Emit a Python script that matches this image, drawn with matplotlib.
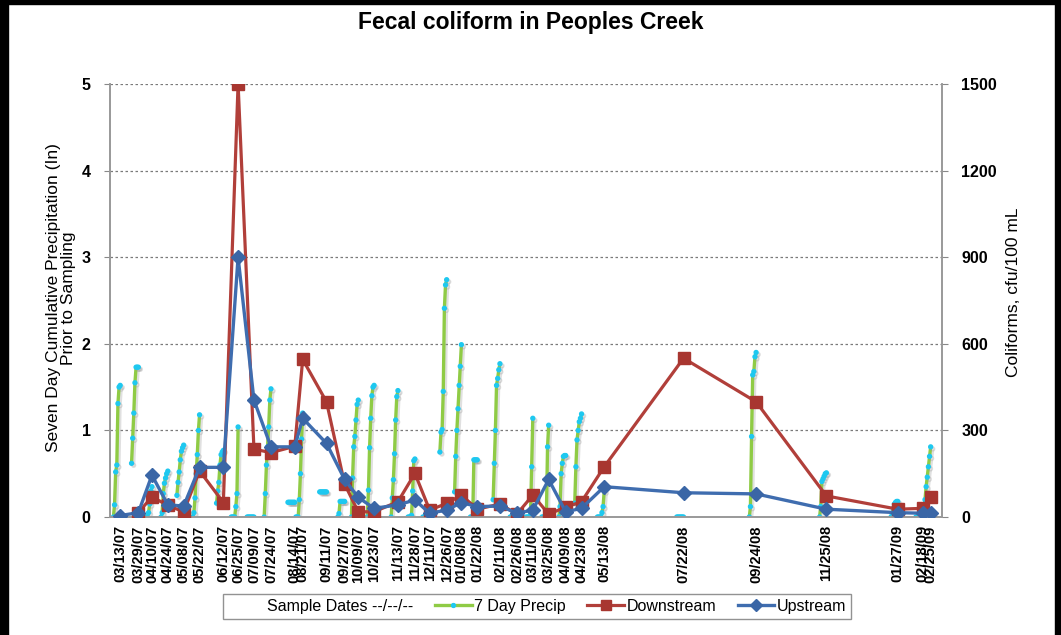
import numpy as np
import pandas as pd
import matplotlib
matplotlib.use("Agg")
import matplotlib.pyplot as plt
import matplotlib.patheffects as pe
from matplotlib.lines import Line2D
from matplotlib.patches import Rectangle

plt.rcParams['font.family'] = ['Liberation Sans', 'DejaVu Sans']

# ---------------- data ----------------
sample_dates = ['03/13/07', '03/29/07', '04/10/07', '04/24/07', '05/08/07', '05/22/07',
                '06/12/07', '06/25/07', '07/09/07', '07/24/07', '08/14/07', '08/21/07',
                '09/11/07', '09/27/07', '10/09/07', '10/23/07', '11/13/07', '11/28/07',
                '12/11/07', '12/26/07', '01/08/08', '01/22/08', '02/11/08', '02/26/08',
                '03/11/08', '03/25/08', '04/09/08', '04/23/08', '05/13/08', '07/22/08',
                '09/24/08', '11/25/08', '01/27/09', '02/18/09', '02/25/09']

downstream = [np.nan, 15, 70, 40, 18, 160, 50, 1500, 235, 223, 245, 546, 399, 114, 18, 18,
              53, 151, 24, 47, 76, 27, 45, 10, 76, 10, 34, 53, 174, 550, 399, 73, 27, 30, 70]

upstream = [5, 15, 145, 42, 38, 172, 172, 900, 405, 243, 243, 342, 255, 130, 68, 30,
            42, 59, 13, 24, 50, 36, 38, 13, 24, 130, 18, 30, 105, 84, 80, 27, 15, 13, 15]

# 7-day cumulative precipitation (in) for the 7 days ending on each sample date
precip_7day = [
    [0.00, 0.14, 0.52, 0.60, 1.31, 1.50, 1.52],
    [0.62, 0.91, 1.20, 1.55, 1.73, 1.73, 1.73],
    [0.00, 0.00, 0.00, 0.05, 0.15, 0.30, 0.35],
    [0.00, 0.05, 0.27, 0.39, 0.45, 0.50, 0.53],
    [0.25, 0.40, 0.52, 0.66, 0.76, 0.80, 0.83],
    [0.00, 0.05, 0.22, 0.50, 0.72, 1.00, 1.18],
    [0.16, 0.30, 0.40, 0.60, 0.72, 0.75, 0.77],
    [0.00, 0.00, 0.00, 0.00, 0.12, 0.27, 1.04],
    [0.00, 0.00, 0.00, 0.00, 0.00, 0.00, 0.00],
    [0.00, 0.27, 0.60, 0.81, 1.04, 1.35, 1.48],
    [0.17, 0.17, 0.17, 0.17, 0.17, 0.17, 0.17],
    [0.00, 0.00, 0.00, 0.20, 0.50, 0.90, 1.20],
    [0.29, 0.29, 0.29, 0.29, 0.29, 0.29, 0.29],
    [0.00, 0.04, 0.18, 0.18, 0.18, 0.18, 0.18],
    [0.00, 0.45, 0.81, 0.93, 1.12, 1.30, 1.35],
    [0.00, 0.31, 0.80, 1.14, 1.40, 1.50, 1.52],
    [0.00, 0.22, 0.43, 0.73, 1.12, 1.39, 1.46],
    [0.00, 0.00, 0.00, 0.02, 0.30, 0.65, 0.67],
    [0.00, 0.00, 0.00, 0.00, 0.05, 0.08, 0.10],
    [0.75, 0.98, 1.01, 1.45, 2.41, 2.68, 2.74],
    [0.29, 0.70, 1.00, 1.25, 1.52, 1.74, 1.99],
    [0.00, 0.00, 0.00, 0.66, 0.66, 0.66, 0.66],
    [0.20, 0.62, 1.00, 1.52, 1.60, 1.70, 1.77],
    [0.00, 0.00, 0.00, 0.00, 0.00, 0.00, 0.00],
    [0.00, 0.00, 0.00, 0.00, 0.04, 0.58, 1.14],
    [0.00, 0.00, 0.00, 0.00, 0.04, 0.81, 1.06],
    [0.00, 0.12, 0.50, 0.62, 0.70, 0.71, 0.71],
    [0.16, 0.58, 0.89, 1.00, 1.10, 1.14, 1.19],
    [0.00, 0.00, 0.00, 0.00, 0.05, 0.12, 0.30],
    [0.00, 0.00, 0.00, 0.00, 0.00, 0.00, 0.00],
    [0.00, 0.12, 0.93, 1.64, 1.68, 1.85, 1.90],
    [0.00, 0.12, 0.41, 0.44, 0.47, 0.50, 0.51],
    [0.00, 0.04, 0.10, 0.15, 0.17, 0.18, 0.18],
    [0.00, 0.00, 0.00, 0.00, 0.02, 0.04, 0.05],
    [0.10, 0.20, 0.35, 0.46, 0.58, 0.70, 0.81],
]

x_start, x_end = '2007-03-04', '2009-03-07'

# ---------------- build ----------------
dates = pd.to_datetime(sample_dates, format='%m/%d/%y')

p_x, p_y = [], []
for d, vals in zip(dates, precip_7day):
    n = len(vals)
    days = [d - pd.Timedelta(days=n - 1 - i) for i in range(n)]
    p_x.extend(days)
    p_y.extend(vals)
    p_x.append(d + pd.Timedelta(hours=12))
    p_y.append(np.nan)

W, H = 1061, 635
fig = plt.figure(figsize=(W / 100, H / 100), dpi=100)
ax = fig.add_axes([110 / W, 1 - 517 / H, (942 - 110) / W, (517 - 84) / H])
ax2 = ax.twinx()

ax.set_zorder(1)
ax2.set_zorder(2)
ax2.patch.set_visible(False)

green = '#8FCB45'
cyan = '#1EC8F0'
red = '#B13F3A'
blue = '#3F6DAF'

ax.plot(p_x, p_y, color=green, lw=2.4, marker='o', ms=2.8, mfc=cyan, mec=cyan,
        solid_capstyle='round',
        path_effects=[pe.SimpleLineShadow(offset=(1.5, -1.5), shadow_color='#9a9a9a', alpha=0.3),
                      pe.Normal()])

ax2.plot(dates, downstream, color=red, lw=2.3, marker='s', ms=8.5, mfc='#A83630', mec='#A83630',
         zorder=3)
ax2.plot(dates, upstream, color=blue, lw=2.4, marker='D', ms=7, mfc='#3A66A6', mec='#3A66A6',
         zorder=4)

ax.set_xlim(pd.Timestamp(x_start), pd.Timestamp(x_end))
ax.set_ylim(0, 5)
ax2.set_ylim(0, 1500)
ax.set_yticks([0, 1, 2, 3, 4, 5])
ax2.set_yticks([0, 300, 600, 900, 1200, 1500])

ax.yaxis.grid(True, linestyle=(0, (2, 2)), color='#7a7a7a', lw=0.9)
ax.set_axisbelow(True)

ax.set_xticks(dates)
ax.set_xticklabels(sample_dates, rotation=90, fontsize=10.5, fontweight='bold')
ax.tick_params(axis='x', length=0, pad=6)
ax.tick_params(axis='y', length=4, color='#888888', labelsize=11.5, pad=10)
ax2.tick_params(axis='y', length=4, color='#888888', labelsize=11.5, pad=10)
for lab in ax.get_yticklabels() + ax2.get_yticklabels():
    lab.set_fontweight('bold')

for a in (ax, ax2):
    a.spines['top'].set_visible(False)
    for s in ('left', 'right', 'bottom'):
        a.spines[s].set_color('#999999')
        a.spines[s].set_linewidth(1.2)

fig.text(0.5, 1 - 22 / H, 'Fecal coliform in Peoples Creek', ha='center', va='center',
         fontsize=16.5, fontweight='bold')
fig.text(61 / W, 1 - 298 / H, 'Seven Day Cumulative Precipitation (In)\nPrior to Sampling',
         rotation=90, ha='center', va='center', fontsize=12.5, linespacing=1.05)
fig.text(1014 / W, 1 - 292 / H, 'Coliforms, cfu/100 mL', rotation=90, ha='center', va='center',
         fontsize=12.5)

handles = [
    Line2D([], [], color='none'),
    Line2D([], [], color=green, lw=2.4, marker='o', ms=2.8, mfc=cyan, mec=cyan),
    Line2D([], [], color=red, lw=2.3, marker='s', ms=7, mfc='#A83630', mec='#A83630'),
    Line2D([], [], color=blue, lw=2.4, marker='D', ms=6, mfc='#3A66A6', mec='#3A66A6'),
]
labels = ['Sample Dates --/--/--', '7 Day Precip', 'Downstream', 'Upstream']
leg = fig.legend(handles, labels, loc='center', mode='expand',
                 bbox_to_anchor=(215 / W, 1 - 620 / H, 644 / W, 27 / H), ncol=4,
                 fontsize=11.5, frameon=True, fancybox=False, edgecolor='#777777',
                 handlelength=2.3, columnspacing=1.5, handletextpad=0.15, borderpad=0.3)
leg.get_frame().set_linewidth(1.0)

# black frame around the picture
fig.patches.append(Rectangle((0, 0), 8 / W, 1, transform=fig.transFigure, color='black'))
fig.patches.append(Rectangle((0, 1 - 4 / H), 1, 4 / H, transform=fig.transFigure, color='black'))
fig.patches.append(Rectangle((1 - 6 / W, 0), 6 / W, 1, transform=fig.transFigure, color='black'))

fig.savefig('out.png', dpi=100)
